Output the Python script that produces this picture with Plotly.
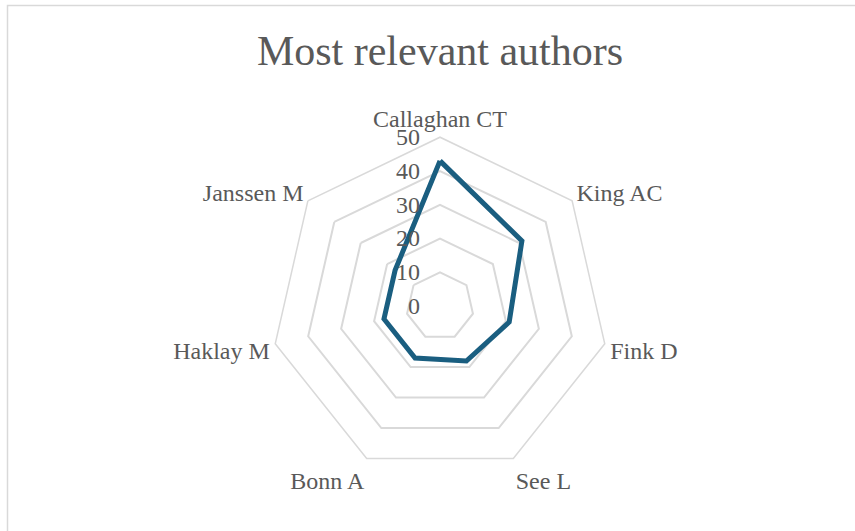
import plotly.graph_objects as go

categories = ["Callaghan CT", "King AC", "Fink D", "See L", "Bonn A", "Haklay M", "Janssen M"]
values = [43, 31, 21, 18, 17, 17, 17]
radial_ticks = [0, 10, 20, 30, 40, 50]
title_text = "Most relevant authors"

W, H = 855, 531
cx, cy, R = 440, 306.2, 169

theta = categories + [categories[0]]
r = values + [values[0]]

fig = go.Figure()
fig.add_trace(go.Scatterpolar(
    r=r, theta=theta, mode="lines",
    line=dict(color="#1A5E80", width=5),
    hoverinfo="skip", showlegend=False,
))

font_family = "Liberation Serif"
grey = "#D9D9D9"
txt = "#595959"

fig.update_layout(
    width=W, height=H,
    margin=dict(l=0, r=0, t=0, b=0),
    paper_bgcolor="white",
    plot_bgcolor="white",
    font=dict(family=font_family, color=txt, size=24),
    title=dict(text=title_text, x=cx / W, xanchor="center",
               y=1 - 50 / H, yanchor="middle",
               font=dict(family=font_family, size=42, color=txt)),
    polar=dict(
        domain=dict(x=[(cx - R) / W, (cx + R) / W],
                    y=[(H - cy - R) / H, (H - cy + R) / H]),
        gridshape="linear",
        bgcolor="white",
        radialaxis=dict(
            range=[0, 50], tickvals=radial_ticks, ticktext=[str(v) for v in radial_ticks],
            showline=False, ticks="outside", ticklen=11, tickcolor="rgba(0,0,0,0)",
            angle=90, side="counterclockwise",
            gridcolor=grey, gridwidth=1.5, tickangle=90,
            tickfont=dict(family=font_family, size=24, color=txt),
        ),
        angularaxis=dict(
            rotation=90, direction="clockwise",
            showgrid=False, showline=True, linecolor=grey, linewidth=1.5,
            ticks="",
            tickfont=dict(family=font_family, size=24, color=txt),
        ),
    ),
    shapes=[dict(type="rect", xref="paper", yref="paper",
                 x0=7.5 / W, x1=1.05, y0=-0.05, y1=1 - 5.5 / H,
                 line=dict(color=grey, width=1.5), fillcolor="rgba(0,0,0,0)",
                 layer="below")],
)

fig.write_html("out.html")
